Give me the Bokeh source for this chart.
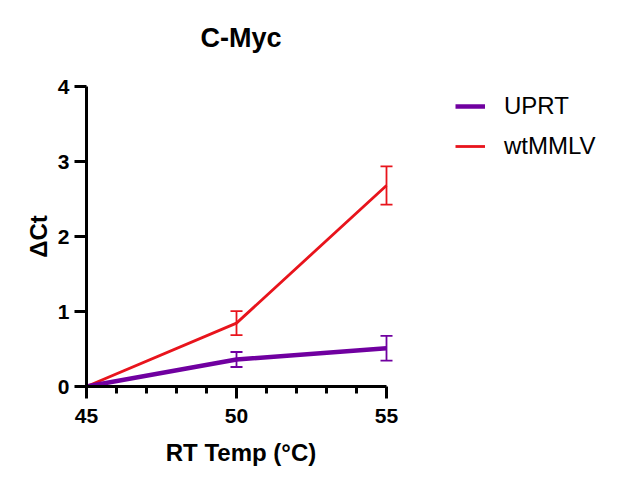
from bokeh.plotting import figure
from bokeh.models import (ColumnDataSource, Whisker, TeeHead, FixedTicker, Legend,
                          LegendItem, LinearAxis)
from bokeh.embed import file_html
from bokeh.resources import INLINE

# Data
temps = [45, 50, 55]
uprt = [0.0, 0.36, 0.51]
uprt_err = [0.0, 0.10, 0.165]
wtmmlv = [0.0, 0.845, 2.68]
wtmmlv_err = [0.0, 0.16, 0.255]
x_ticks = [45, 50, 55]
x_minor = [46, 47, 48, 49, 51, 52, 53, 54]
y_ticks = [0, 1, 2, 3, 4]
title_text = "C-Myc"

PURPLE = "#7000a0"
RED = "#e8141c"
FONT = "Liberation Sans"

p = figure(frame_width=309, frame_height=300,
           min_border_left=86, min_border_right=217,
           min_border_top=86, min_border_bottom=93,
           x_range=(45, 55.3), y_range=(0, 4),
           output_backend="svg", toolbar_location=None)
p.background_fill_color = "white"
p.border_fill_color = "white"
p.outline_line_color = None
p.grid.visible = False

xa = p.below[0]
ya = p.left[0]

# title drawn as the label of a bare axis above the frame
top = LinearAxis(axis_label=title_text, ticker=FixedTicker(ticks=[], minor_ticks=[]),
                 bounds=(45, 55), axis_line_color=None,
                 major_tick_line_color=None, minor_tick_line_color=None,
                 major_tick_out=0, minor_tick_out=0, major_tick_in=0, minor_tick_in=0,
                 axis_label_standoff=34,
                 axis_label_text_font=FONT, axis_label_text_font_size="27px",
                 axis_label_text_font_style="bold", axis_label_text_color="black")
p.add_layout(top, "above")

for ax in (xa, ya):
    ax.axis_line_width = 3
    ax.major_tick_line_width = 3
    ax.minor_tick_line_width = 3
    ax.major_tick_in = 0
    ax.minor_tick_in = 0
    ax.major_label_text_font = FONT
    ax.major_label_text_font_size = "21px"
    ax.major_label_text_font_style = "bold"
    ax.major_label_text_color = "black"
    ax.axis_label_text_font = FONT
    ax.axis_label_text_font_size = "24px"
    ax.axis_label_text_font_style = "bold"
    ax.axis_label_text_color = "black"

xa.ticker = FixedTicker(ticks=x_ticks, minor_ticks=x_minor)
xa.bounds = (45, 55)
xa.major_tick_out = 12
xa.minor_tick_out = 7
xa.major_label_standoff = 10
xa.axis_label = "RT Temp (°C)"
xa.axis_label_standoff = 13

ya.ticker = FixedTicker(ticks=y_ticks, minor_ticks=[])
ya.major_tick_out = 12
ya.major_label_standoff = 5
ya.axis_label = "ΔCt"
ya.axis_label_standoff = 3

src_w = ColumnDataSource(dict(x=temps, y=wtmmlv,
                              lo=[v - e for v, e in zip(wtmmlv, wtmmlv_err)],
                              hi=[v + e for v, e in zip(wtmmlv, wtmmlv_err)]))
src_u = ColumnDataSource(dict(x=temps, y=uprt,
                              lo=[v - e for v, e in zip(uprt, uprt_err)],
                              hi=[v + e for v, e in zip(uprt, uprt_err)]))

r_w = p.line("x", "y", source=src_w, line_color=RED, line_width=2.8)
r_u = p.line("x", "y", source=src_u, line_color=PURPLE, line_width=4.5)

for src, col in ((src_w, RED), (src_u, PURPLE)):
    w = Whisker(base="x", lower="lo", upper="hi", source=src,
                line_color=col, line_width=1.8,
                upper_head=TeeHead(size=12, line_color=col, line_width=1.8),
                lower_head=TeeHead(size=12, line_color=col, line_width=1.8))
    p.add_layout(w)

legend = Legend(items=[LegendItem(label="UPRT", renderers=[r_u]),
                       LegendItem(label="wtMMLV", renderers=[r_w])],
                location=(60, 226), orientation="vertical",
                margin=0, padding=0, spacing=12,
                glyph_width=30, glyph_height=24, label_height=24,
                label_standoff=19,
                label_text_font=FONT, label_text_font_size="24px",
                label_text_color="black",
                border_line_color=None, background_fill_alpha=0)
p.add_layout(legend, "right")

open("out.html", "w").write(file_html(p, INLINE))
